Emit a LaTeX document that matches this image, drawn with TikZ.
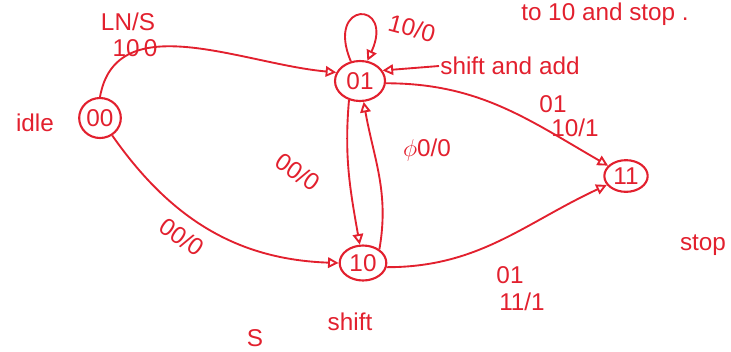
\documentclass[tikz,border=0pt]{standalone}
\usepackage{fontspec}
\setmainfont{Liberation Sans}
\usepackage{xcolor}
\usetikzlibrary{shapes.geometric, arrows.meta, positioning}
\definecolor{ink}{RGB}{226,32,46}

\begin{document}
\begin{tikzpicture}[x=0.3mm, y=-0.3mm,
  every node/.style={font=\huge, text=ink},
  state/.style={ellipse, draw=ink, line width=1.8pt, inner sep=0pt,
                minimum width=13mm, minimum height=11mm},
  lbl/.style={font=\huge, inner sep=1pt},
  note/.style={font=\huge, inner sep=1pt},
  arr/.style={-{Triangle[open, length=9pt, width=9pt]}, line width=1.6pt, draw=ink}
]
  \useasboundingbox (0,0) rectangle (731,351);

  % ── States ────────────────────────────────────────────────────
  \node[state, minimum width=12.5mm, minimum height=12mm] (idle) at (100,118) {00};
  \node[state, minimum width=15mm, minimum height=12mm] (st01) at (360,81)  {01};
  \node[state, minimum width=14mm, minimum height=10.5mm] (st10) at (363,263) {10};
  \node[state, minimum width=13mm, minimum height=9.5mm] (st11) at (626,176) {11};

  % ── State names ───────────────────────────────────────────────
  \node[note] (n_idle)  at (35,123)  {idle};
  \node[note] (n_shift) at (350,322) {shift};
  \node[note] (n_stop)  at (703,245) {stop};
  \node[note] (n_sa)    at (510,66)  {shift and add};

  % ── Transitions ───────────────────────────────────────────────
  \draw[arr] (idle.north) to[out=80, in=175] (st01.160);
  \draw[arr] (idle.-55) to[out=-55, in=178] (st10.west);
  \draw[arr] (st01.240) to[out=-95, in=100] (st10.100);
  \draw[arr] (st10.40) to[out=80, in=-80] (st01.-80);
  \draw[arr] (st01.-5) to[out=0, in=150] (st11.150);
  \draw[arr] (st10.-10) to[out=0, in=205] (st11.205);
  \draw[arr] (st01.115) .. controls (325,0) and (395,0) .. (st01.70);
  \draw[arr] (n_sa.west) -- (st01.25);

  % ── Edge labels ───────────────────────────────────────────────
  \node[lbl] (l1a) at (128,22)  {LN/S};
  \node[lbl] (l1b) at (135,48)  {10\,0};
  \node[lbl, rotate=-15] (l2) at (412,28) {10/0};
  \node[lbl] (l3) at (427,150) {$\phi$0/0};
  \node[lbl, rotate=-35] (l4) at (298,172) {00/0};
  \node[lbl, rotate=-35] (l5) at (182,237) {00/0};
  \node[lbl] (l6a) at (553,104) {01};
  \node[lbl] (l6b) at (575,128) {10/1};
  \node[lbl] (l7a) at (510,275) {01};
  \node[lbl] (l7b) at (522,302) {11/1};

  % ── Stray page text ───────────────────────────────────────────
  \node[note] (n_top) at (605,14) {to 10 and stop .};
  \node[note] (n_s)   at (255,338) {S};

\end{tikzpicture}
\end{document}
